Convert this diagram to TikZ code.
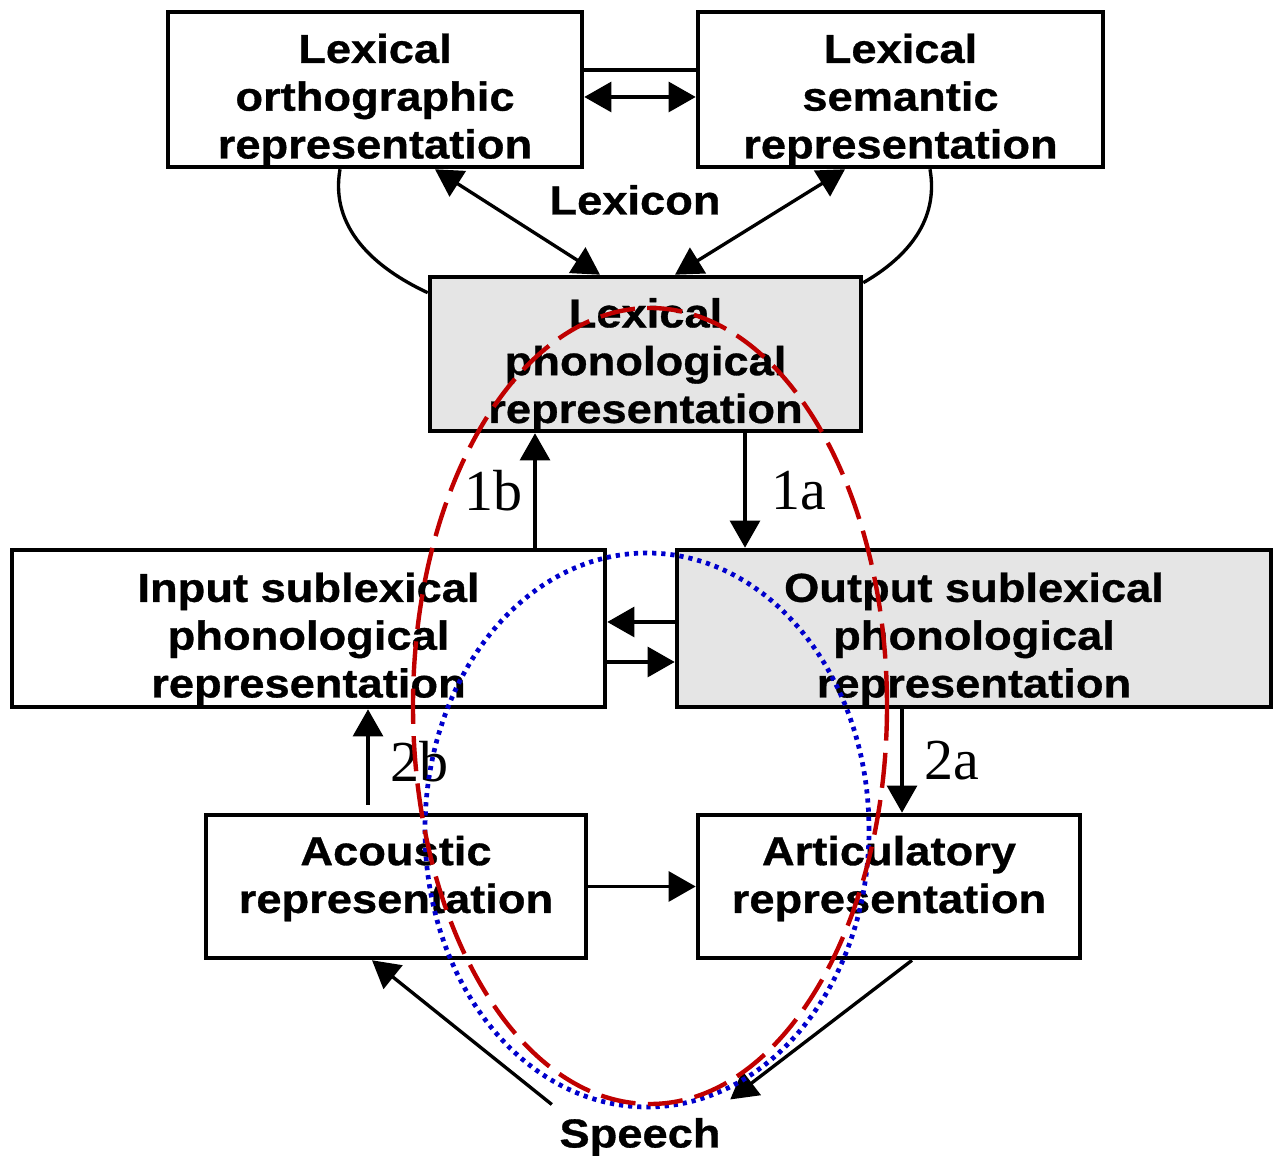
\documentclass[tikz,border=0pt]{standalone}
\usepackage{fontspec}
\setmainfont{Liberation Serif}
\newfontfamily\boxfont[FakeStretch=1.12, BoldFeatures={FakeBold=0.8}]{Liberation Sans}
\usetikzlibrary{arrows.meta}
\definecolor{loopred}{RGB}{192,0,0}
\definecolor{loopblue}{RGB}{0,0,204}
\newcommand{\boxlines}[2]{\raisebox{#1}[\height][\depth]{\begin{tabular}{@{}c@{}}#2\end{tabular}}}

\begin{document}
\begin{tikzpicture}[
  rep/.style={draw=black, line width=1.3pt, inner sep=0pt, font=\boxfont\bfseries\fontsize{11.5}{13.6}\selectfont},
  lbl/.style={inner sep=0pt, font=\boxfont\bfseries\fontsize{11.5}{13.6}\selectfont},
  route/.style={inner sep=1pt, font=\fontsize{16.5}{18}\selectfont},
  link/.style={line width=0.95pt, -{Triangle[length=7.7pt,width=8.5pt]}},
  both/.style={line width=0.95pt, {Triangle[length=7.7pt,width=8.5pt]}-{Triangle[length=7.7pt,width=8.5pt]}}
]
\useasboundingbox (0,0) rectangle (12.75,-11.61);
% lexicon
\node[rep, minimum width=4.14cm, minimum height=1.55cm] (ortho) at (3.75,-0.895) {\boxlines{-3.3pt}{Lexical\\orthographic\\representation}};
\node[rep, minimum width=4.05cm, minimum height=1.55cm] (semantic) at (9.005,-0.895) {\boxlines{-3.3pt}{Lexical\\semantic\\representation}};
\node[rep, fill=gray!20, minimum width=4.31cm, minimum height=1.54cm] (phon) at (6.455,-3.54) {\boxlines{-3.3pt}{Lexical\\phonological\\representation}};
\node[lbl] (lexicon) at (6.35,-2.00) {Lexicon};
% sublexical
\node[rep, minimum width=5.93cm, minimum height=1.57cm] (input) at (3.085,-6.285) {\boxlines{-3.3pt}{Input sublexical\\phonological\\representation}};
\node[rep, fill=gray!20, minimum width=5.94cm, minimum height=1.57cm] (output) at (9.74,-6.285) {\boxlines{-3.3pt}{Output sublexical\\phonological\\representation}};
\node[rep, minimum width=3.80cm, minimum height=1.43cm] (acoustic) at (3.96,-8.865) {\boxlines{2pt}{Acoustic\\representation}};
\node[rep, minimum width=3.82cm, minimum height=1.43cm] (artic) at (8.89,-8.865) {\boxlines{2pt}{Articulatory\\representation}};
\node[lbl] (speech) at (6.40,-11.37) {Speech};

\draw[line width=0.95pt] ([yshift=0.195cm]ortho.east) -- ([yshift=0.195cm]semantic.west);
\draw[both] ([yshift=-0.075cm]ortho.east) -- ([yshift=-0.075cm]semantic.west);
\draw[both] ([xshift=0.60cm]ortho.south) -- ([xshift=-0.455cm]phon.north);
\draw[both] ([xshift=-0.555cm]semantic.south) -- ([xshift=0.295cm]phon.north);
\draw[line width=0.95pt] ([xshift=-0.35cm]ortho.south) to[out=-100, in=155] ([yshift=-0.18cm]phon.north west);
\draw[line width=0.95pt] ([xshift=0.295cm]semantic.south) to[out=-80, in=30] ([yshift=-0.08cm]phon.north east);

\draw[link] ([xshift=2.265cm]input.north) -- node[route, left=2pt] (r1b) {1b} ([xshift=2.265cm]input.north |- phon.south);
\draw[link] ([xshift=0.995cm]phon.south) -- node[route, right=6pt] (r1a) {1a} ([xshift=0.995cm]phon.south |- output.north);
\draw[link] ([yshift=0.065cm]output.west) -- ([yshift=0.065cm]input.east);
\draw[link] ([yshift=-0.335cm]input.east) -- ([yshift=-0.335cm]output.west);
\draw[link] ([xshift=-0.28cm,yshift=0.08cm]acoustic.north) -- node[route, right=5pt, yshift=-0.05cm] (r2b) {2b} ([xshift=-0.28cm]acoustic.north |- input.south);
\draw[link] ([xshift=-0.72cm]output.south) -- node[route, right=5pt] (r2a) {2a} ([xshift=-0.72cm]output.south |- artic.north);
\draw[link] (acoustic.east) -- (artic.west);
\draw[link] ([xshift=-0.07cm,yshift=0.13cm]speech.north west) -- ([xshift=-0.24cm]acoustic.south);
\draw[link] ([xshift=0.23cm]artic.south) -- ([xshift=0.09cm,yshift=0.18cm]speech.north east);

% loops
\draw[loopblue, line width=1.35pt, dash pattern=on 1.2pt off 1.4pt] (6.47,-8.30) ellipse [x radius=2.22cm, y radius=2.77cm];
\draw[loopred, line width=1.25pt, dash pattern=on 10pt off 3.5pt] (6.50,-7.06) ellipse [x radius=2.37cm, y radius=3.98cm];
\end{tikzpicture}
\end{document}
